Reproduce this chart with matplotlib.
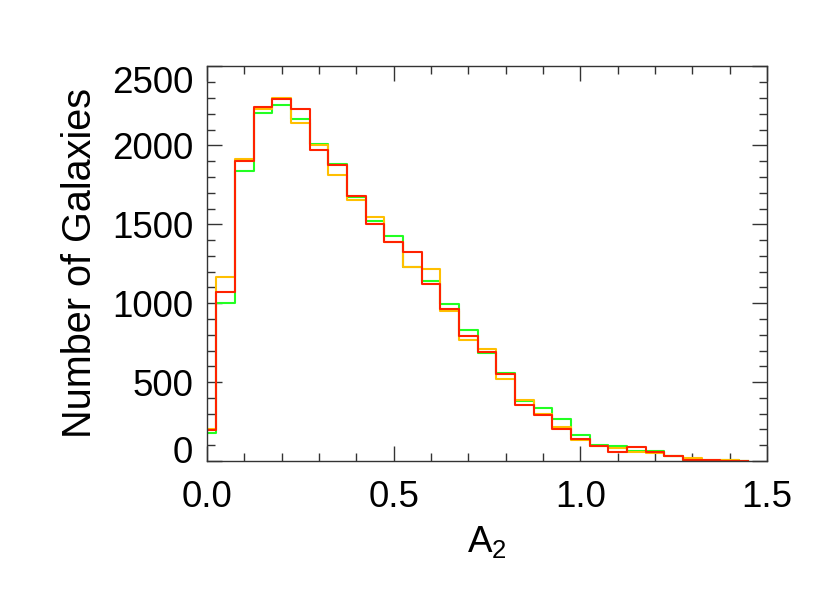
import matplotlib
matplotlib.use("Agg")
import matplotlib.pyplot as plt
import matplotlib.transforms as mtrans
import numpy as np

plt.rcParams['font.family'] = ['Liberation Sans', 'DejaVu Sans']

# bin centres of A2 histogram (width 0.05)
a2 = np.arange(30) * 0.05

green = [177, 999, 1835, 2206, 2254, 2170, 2011, 1879, 1670, 1522,
         1427, 1227, 1142, 995, 827, 686, 557, 382, 338, 266,
         167, 103, 92, 64, 61, 32, 5, 3, 4, 1]
orange = [204, 1164, 1911, 2231, 2301, 2142, 2004, 1812, 1655, 1546,
          1388, 1227, 1215, 950, 768, 709, 521, 387, 300, 213,
          130, 94, 83, 56, 53, 30, 17, 4, 4, 1]
red = [198, 1069, 1898, 2246, 2292, 2233, 1973, 1874, 1680, 1505,
       1388, 1324, 1119, 965, 793, 688, 551, 357, 291, 204,
       139, 92, 54, 86, 54, 33, 6, 9, 1, 0]

xticks = [0.0, 0.5, 1.0, 1.5]
yticks = [0, 500, 1000, 1500, 2000, 2500]

fig = plt.figure(figsize=(8.3, 5.93), dpi=100)
ax = fig.add_axes([0.2494, 0.2226, 0.6747, 0.6666])

ax.step(a2, green, where='mid', color='#22ff22', lw=1.5)
ax.step(a2, orange, where='mid', color='#ffbf00', lw=1.5)
ax.step(a2, red, where='mid', color='#ff2200', lw=1.5)

ax.set_xlim(0, 1.5)
ax.set_ylim(0, 2505)
ax.set_xticks(xticks)
ax.set_xticklabels(['0.0', '0.5', '1.0', '1.5'])
ax.set_xticks(np.arange(0, 1.51, 0.1), minor=True)
ax.set_yticks(yticks)
ax.set_yticklabels([str(v) for v in yticks])
ax.set_yticks(np.arange(0, 2501, 100), minor=True)

ax.tick_params(which='both', direction='in', top=True, right=True,
               labelsize=26.5, color='#333333')
ax.tick_params(which='major', length=11, width=1)
ax.tick_params(which='minor', length=6, width=1)
ax.tick_params(axis='y', pad=10)
ax.tick_params(axis='x', pad=14)
for sp in ax.spines.values():
    sp.set_linewidth(1)
    sp.set_color('#333333')

# IDL pulls the end labels inside the axis
ylabs = ax.get_yticklabels()
ylabs[0].set_transform(ylabs[0].get_transform() +
                       mtrans.ScaledTranslation(0, 0.11, fig.dpi_scale_trans))
ylabs[-1].set_transform(ylabs[-1].get_transform() +
                        mtrans.ScaledTranslation(0, -0.13, fig.dpi_scale_trans))

ax.set_xlabel(r'$\mathregular{A_2}$', fontsize=26.5, labelpad=6)
ax.set_ylabel('Number of Galaxies', fontsize=28.5, labelpad=9)

fig.savefig('out.png', dpi=100)
